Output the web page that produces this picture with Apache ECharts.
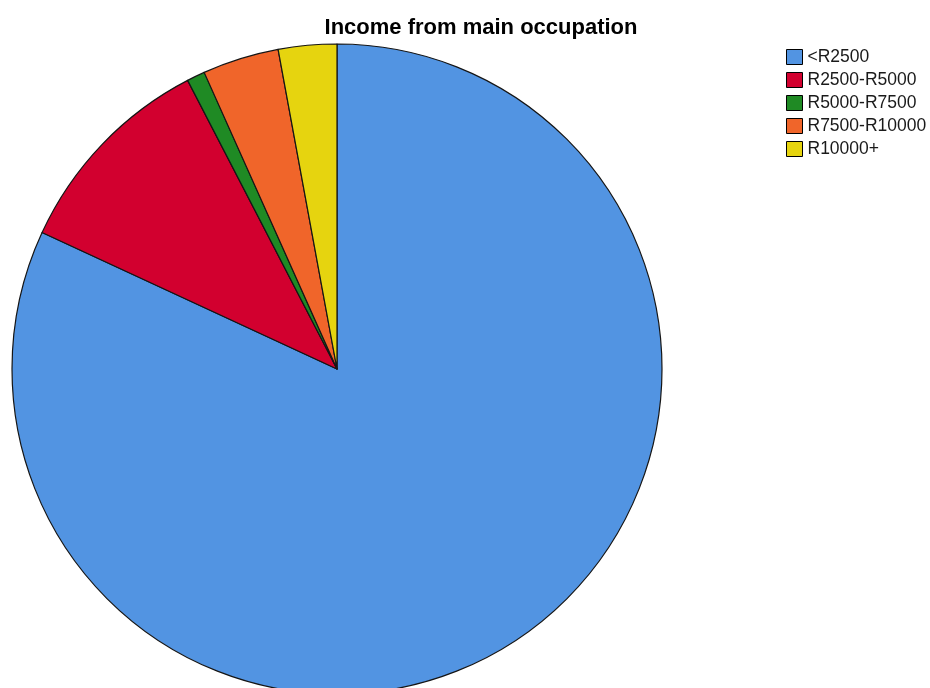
<!DOCTYPE html>
<html>
<head>
<meta charset="utf-8">
<script src="https://cdn.jsdelivr.net/npm/echarts@6/dist/echarts.min.js"></script>
<style>
  html, body { margin: 0; padding: 0; background: #fff; }
  #chart { width: 930px; height: 688px; }
</style>
</head>
<body>
<div id="chart"></div>
<script>
// Income brackets and their share of respondents (%)
const categories = ['<R2500', 'R2500-R5000', 'R5000-R7500', 'R7500-R10000', 'R10000+'];
const shares = [81.9, 10.5, 0.9, 3.8, 2.9];
const colors = ['#5294E2', '#D2002F', '#1F8A24', '#F0652A', '#E6D40F'];

const chart = echarts.init(document.getElementById('chart'), null, { renderer: 'canvas' });

chart.setOption({
  animation: false,
  title: {
    text: 'Income from main occupation',
    left: 481,
    textAlign: 'center',
    top: 17,
    padding: 0,
    textStyle: { fontFamily: 'Liberation Sans, Arial, sans-serif', fontSize: 22, fontWeight: 'bold', color: '#000' }
  },
  legend: {
    orient: 'vertical',
    left: 786,
    top: 48,
    padding: 0,
    itemWidth: 16,
    itemHeight: 15,
    itemGap: 5,
    icon: 'rect',
    itemStyle: { borderColor: '#000', borderWidth: 1 },
    textStyle: { fontFamily: 'Liberation Sans, Arial, sans-serif', fontSize: 17.5, color: '#1a1a1a' },
    data: categories
  },
  series: [{
    type: 'pie',
    center: [337, 369],
    radius: 325,
    startAngle: 90,
    clockwise: true,
    avoidLabelOverlap: false,
    label: { show: false },
    labelLine: { show: false },
    emphasis: { disabled: true },
    itemStyle: { borderColor: '#151515', borderWidth: 1.2 },
    data: categories.map((name, i) => ({
      name: name,
      value: shares[i],
      itemStyle: { color: colors[i] }
    }))
  }]
});
</script>
</body>
</html>
